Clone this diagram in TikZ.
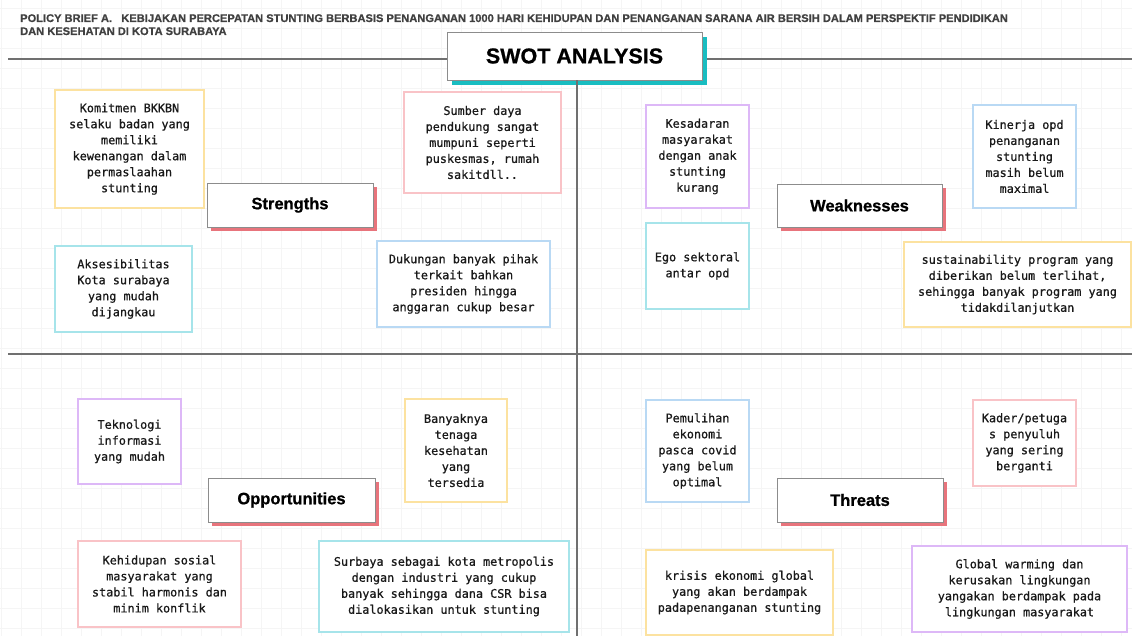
\documentclass[tikz,border=0pt]{standalone}
\usepackage{fontspec}
\setmainfont{Liberation Sans}
\newfontfamily\notefont[FakeBold=0.7]{DejaVu Sans Mono}
\newfontfamily\tagfont[FakeBold=0.8]{Liberation Sans Bold}
\newfontfamily\headfont[FakeBold=0.6]{Liberation Sans Bold}
\usetikzlibrary{shadows}

\definecolor{swgrid}{RGB}{245,245,245}
\definecolor{swline}{RGB}{112,112,112}
\definecolor{swedge}{RGB}{140,140,140}
\definecolor{swhead}{RGB}{64,64,64}
\definecolor{swteal}{RGB}{25,189,193}
\definecolor{swred}{RGB}{232,116,124}
\definecolor{noteyellow}{RGB}{252,226,160}
\definecolor{notecyan}{RGB}{166,228,234}
\definecolor{notepink}{RGB}{249,195,199}
\definecolor{noteblue}{RGB}{185,217,244}
\definecolor{notepurple}{RGB}{221,184,247}

\tikzset{
  note/.style={draw, line width=1.4pt, fill=white, align=center, inner sep=0pt,
    font=\notefont\fontsize{11.8}{16}\selectfont, text=black!90},
  tagbox/.style={draw=swedge, line width=0.9pt, fill=white, minimum width=166, minimum height=44,
    font=\tagfont\fontsize{16.5}{18}\selectfont,
    drop shadow={shadow xshift=4pt, shadow yshift=-4pt, fill=swred, opacity=1}},
  divider/.style={swline, line width=2pt},
  gridline/.style={swgrid, line width=0.8pt}
}

\begin{document}
\begin{tikzpicture}[x=1pt, y=-1pt]
  \useasboundingbox (0,0) rectangle (1132,636);
  \fill[white] (0,0) rectangle (1132,636);

  % background grid
  \foreach \gx in {1,21,...,1121} \draw[gridline] (\gx,0) -- (\gx,636);
  \foreach \gy in {8,28,...,628} \draw[gridline] (0,\gy) -- (1132,\gy);

  % heading
  \node[anchor=base west, inner sep=0pt, text=swhead, font=\headfont\fontsize{11.1}{13}\selectfont] (head1) at (20,22)
    {POLICY BRIEF A.\ \ \ KEBIJAKAN PERCEPATAN STUNTING BERBASIS PENANGANAN 1000 HARI KEHIDUPAN DAN PENANGANAN SARANA AIR BERSIH DALAM PERSPEKTIF PENDIDIKAN};
  \node[anchor=base west, inner sep=0pt, text=swhead, font=\headfont\fontsize{11.1}{13}\selectfont] (head2) at (20,35)
    {DAN KESEHATAN DI KOTA SURABAYA};

  % quadrant dividers
  \coordinate (topL) at (8,59);
  \coordinate (topR) at (1132,59);
  \coordinate (midL) at (8,354);
  \coordinate (midR) at (1132,354);
  \coordinate (bot) at (576.5,636);
  \draw[divider] (topL) -- (topR);
  \draw[divider] (midL) -- (midR);

  % title
  \node[draw=swedge, line width=0.9pt, fill=white, minimum width=255, minimum height=48,
        font=\tagfont\fontsize{21.5}{24}\selectfont,
        drop shadow={shadow xshift=5pt, shadow yshift=-5pt, fill=swteal, opacity=1}]
    (title) at (574.5,56) {SWOT ANALYSIS};
  \draw[divider] (title.south -| bot) -- (bot);

  % quadrant headings
  \node[tagbox] (str) at (290,205) {Strengths};
  \node[tagbox, minimum width=165, minimum height=43] (wea) at (859.5,205.5) {Weaknesses};
  \node[tagbox, minimum width=167] (opp) at (291.5,500) {Opportunities};
  \node[tagbox] (thr) at (860,500) {Threats};

  % strengths
  \node[note, draw=noteyellow, minimum width=149, minimum height=118] (s1) at (129.5,149)
    {Komitmen BKKBN\\selaku badan yang\\memiliki\\kewenangan dalam\\permaslaahan\\stunting};
  \node[note, draw=notepink, minimum width=157, minimum height=101] (s2) at (482.5,142.5)
    {Sumber daya\\pendukung sangat\\mumpuni seperti\\puskesmas, rumah\\sakitdll..};
  \node[note, draw=notecyan, minimum width=137, minimum height=86] (s3) at (123.5,289)
    {Aksesibilitas\\Kota surabaya\\yang mudah\\dijangkau};
  \node[note, draw=noteblue, minimum width=173, minimum height=86] (s4) at (463.5,284)
    {Dukungan banyak pihak\\terkait bahkan\\presiden hingga\\anggaran cukup besar};

  % weaknesses
  \node[note, draw=notepurple, minimum width=103, minimum height=103] (w1) at (697.5,156.5)
    {Kesadaran\\masyarakat\\dengan anak\\stunting\\kurang};
  \node[note, draw=notecyan, minimum width=103, minimum height=86] (w2) at (697.5,266)
    {Ego sektoral\\antar opd};
  \node[note, draw=noteblue, minimum width=103, minimum height=103] (w3) at (1024.5,156.5)
    {Kinerja opd\\penanganan\\stunting\\masih belum\\maximal};
  \node[note, draw=noteyellow, minimum width=227, minimum height=85] (w4) at (1017.5,284.5)
    {sustainability program yang\\diberikan belum terlihat,\\sehingga banyak program yang\\tidakdilanjutkan};

  % opportunities
  \node[note, draw=notepurple, minimum width=103, minimum height=85] (o1) at (129.5,441.5)
    {Teknologi\\informasi\\yang mudah};
  \node[note, draw=noteyellow, minimum width=102, minimum height=103] (o2) at (456,450.5)
    {Banyaknya\\tenaga\\kesehatan\\yang\\tersedia};
  \node[note, draw=notepink, minimum width=163, minimum height=86] (o3) at (159.5,584)
    {Kehidupan sosial\\masyarakat yang\\stabil harmonis dan\\minim konflik};
  \node[note, draw=notecyan, minimum width=250, minimum height=91] (o4) at (444,586.5)
    {Surbaya sebagai kota metropolis\\dengan industri yang cukup\\banyak sehingga dana CSR bisa\\dialokasikan untuk stunting};

  % threats
  \node[note, draw=noteblue, minimum width=103, minimum height=102] (t1) at (697.5,451)
    {Pemulihan\\ekonomi\\pasca covid\\yang belum\\optimal};
  \node[note, draw=notepink, minimum width=103, minimum height=86] (t2) at (1024.5,443)
    {Kader/petuga\\s penyuluh\\yang sering\\berganti};
  \node[note, draw=noteyellow, minimum width=187, minimum height=85] (t3) at (739.5,592.5)
    {krisis ekonomi global\\yang akan berdampak\\padapenanganan stunting};
  \node[note, draw=notepurple, minimum width=215, minimum height=86] (t4) at (1019.5,589)
    {Global warming dan\\kerusakan lingkungan\\yangakan berdampak pada\\lingkungan masyarakat};
\end{tikzpicture}
\end{document}
